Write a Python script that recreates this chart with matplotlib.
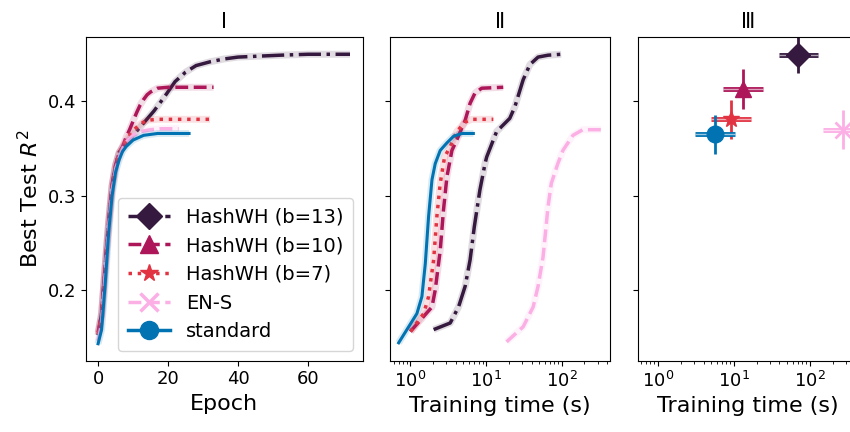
import numpy as np
import matplotlib
matplotlib.use("Agg")
from matplotlib import pyplot as plt

# colours / names
names = ["HashWH (b=13)", "HashWH (b=10)", "HashWH (b=7)", "EN-S", "standard"]
colors = ["#35193e", "#ad1759", "#e13342", "#fbafe4", "#0173b2"]
styles = ["-.", "--", ":", "--", "-"]
markers = ["D", "^", "*", "x", "o"]

# panel I : R2 vs epoch
b13_epoch = [0, 1, 2, 3, 4, 5, 6, 8, 10, 13, 16, 19, 22, 25, 28, 32, 36, 40, 46, 52, 60, 66, 72]
b13_r2 = [0.152, 0.175, 0.224, 0.27, 0.31, 0.332, 0.346, 0.356, 0.364, 0.377, 0.390, 0.405,
          0.421, 0.431, 0.438, 0.442, 0.445, 0.447, 0.448, 0.449, 0.450, 0.450, 0.450]
b10_epoch = [0, 1, 2, 3, 4, 5, 6, 7, 8, 9, 10, 11, 12, 13, 14, 15, 17, 20, 25, 30, 33]
b10_r2 = [0.155, 0.175, 0.225, 0.272, 0.312, 0.333, 0.345, 0.352, 0.362, 0.370, 0.379,
          0.388, 0.396, 0.402, 0.407, 0.410, 0.414, 0.415, 0.415, 0.415, 0.415]
b7_epoch = [0, 1, 2, 3, 4, 5, 6, 7, 8, 9, 10, 12, 14, 17, 20, 25, 32]
b7_r2 = [0.153, 0.172, 0.222, 0.27, 0.31, 0.332, 0.344, 0.352, 0.358, 0.364, 0.369,
         0.376, 0.380, 0.381, 0.381, 0.381, 0.381]
ens_epoch = [0, 1, 2, 3, 4, 5, 6, 7, 8, 10, 12, 15, 18, 23]
ens_r2 = [0.146, 0.165, 0.215, 0.265, 0.305, 0.328, 0.340, 0.350, 0.357, 0.364, 0.368,
          0.370, 0.371, 0.371]
std_epoch = [0, 1, 2, 3, 4, 5, 6, 7, 8, 10, 13, 17, 21, 26]
std_r2 = [0.143, 0.158, 0.205, 0.26, 0.300, 0.325, 0.338, 0.347, 0.352, 0.359, 0.364,
          0.366, 0.366, 0.366]

# panel II : R2 vs training time (s)
b13_time = [2.03, 3.36, 4.33, 5.3, 6.16, 7.0, 8.3, 9.7, 10.2, 13.8, 20.6, 24.0, 31, 38, 48.8, 66, 98.6]
b13_r2_t = [0.158, 0.165, 0.182, 0.204, 0.232, 0.267, 0.306, 0.334, 0.341, 0.368, 0.382,
            0.394, 0.423, 0.439, 0.447, 0.449, 0.450]
b10_time = [1.0, 1.93, 2.13, 2.48, 2.74, 3.04, 3.54, 4.1, 5.3, 6.16, 7.16, 8.78, 16.9]
b10_r2_t = [0.156, 0.182, 0.2, 0.242, 0.285, 0.320, 0.348, 0.359, 0.380, 0.398, 0.409, 0.414, 0.415]
b7_time = [1.0, 1.5, 1.74, 2.03, 2.24, 2.48, 2.83, 3.36, 4.1, 5.3, 6.5, 12.5]
b7_r2_t = [0.156, 0.175, 0.193, 0.232, 0.278, 0.313, 0.341, 0.352, 0.368, 0.378, 0.381, 0.381]
ens_time = [18.7, 31, 42, 48.8, 56.8, 66, 73, 89, 104, 141, 190, 331]
ens_r2_t = [0.145, 0.161, 0.182, 0.204, 0.235, 0.288, 0.313, 0.334, 0.348, 0.364, 0.370, 0.370]
std_time = [0.70, 1.22, 1.42, 1.575, 1.74, 1.93, 2.13, 2.48, 3.04, 3.72, 4.79, 6.8]
std_r2_t = [0.144, 0.175, 0.193, 0.228, 0.278, 0.317, 0.334, 0.348, 0.356, 0.363, 0.366, 0.366]

# panel III : best R2 vs total time, with error bars
p3_time = [69.5, 13.1, 9.2, 272, 5.7]
p3_time_lo = [39, 7.2, 5.0, 151, 3.1]
p3_time_hi = [127, 24, 16.9, 488, 10.5]
p3_r2 = [0.449, 0.413, 0.381, 0.370, 0.365]
p3_r2_err = [0.019, 0.021, 0.021, 0.021, 0.021]

epochs = [b13_epoch, b10_epoch, b7_epoch, ens_epoch, std_epoch]
r2_e = [b13_r2, b10_r2, b7_r2, ens_r2, std_r2]
times = [b13_time, b10_time, b7_time, ens_time, std_time]
r2_t = [b13_r2_t, b10_r2_t, b7_r2_t, ens_r2_t, std_r2_t]

fig = plt.figure(figsize=(8.5, 4.32), dpi=100)
ax1 = fig.add_axes([0.101, 0.165, 0.326, 0.75])
ax2 = fig.add_axes([0.459, 0.165, 0.259, 0.75], sharey=ax1)
ax3 = fig.add_axes([0.750, 0.165, 0.260, 0.75], sharey=ax1, sharex=ax2)

for i in range(5):
    lw = 2.5 if i != 4 else 2.2
    ax1.plot(epochs[i], r2_e[i], color=colors[i], lw=5, alpha=0.15, solid_capstyle="butt")
    ax1.plot(epochs[i], r2_e[i], color=colors[i], ls=styles[i], lw=lw)
    ax2.plot(times[i], r2_t[i], color=colors[i], lw=5, alpha=0.15, solid_capstyle="butt")
    ax2.plot(times[i], r2_t[i], color=colors[i], ls=styles[i], lw=lw)

    xe = [[p3_time[i] - p3_time_lo[i]], [p3_time_hi[i] - p3_time[i]]]
    ax3.errorbar([p3_time[i]], [p3_r2[i]], xerr=xe, fmt="none", ecolor=colors[i], elinewidth=3.5)
    ax3.errorbar([p3_time[i]], [p3_r2[i]], xerr=xe, fmt="none", ecolor="white", elinewidth=1,
                 alpha=0.6)
    ax3.errorbar([p3_time[i]], [p3_r2[i]], yerr=p3_r2_err[i], fmt="none", ecolor=colors[i],
                 elinewidth=2)
    ax3.plot([p3_time[i]], [p3_r2[i]], marker=markers[i], color=colors[i], ms=12 if i != 3 else 11,
             mew=2 if i == 3 else 1, ls="none")

# legend handles
handles = []
for i in range(5):
    h, = ax1.plot([], [], color=colors[i], ls=styles[i], lw=2.5, marker=markers[i], ms=13,
                  mew=2.5 if i == 3 else 1)
    handles.append(h)
ax1.legend(handles, names, loc="lower right", fontsize=14, handlelength=2.2,
           borderpad=0.5, labelspacing=0.5, framealpha=0.8)

ax1.set_ylim(0.125, 0.4686)
ax1.set_yticks([0.2, 0.3, 0.4])
ax1.set_xlim(-3.5, 75.7)
ax1.set_xticks([0, 20, 40, 60])
ax2.set_xscale("log")
ax2.set_xlim(0.54, 440)
plt.setp(ax2.get_yticklabels(), visible=False)
plt.setp(ax3.get_yticklabels(), visible=False)

for ax in (ax1, ax2, ax3):
    ax.tick_params(labelsize=13)

ax1.set_ylabel("Best Test $R^2$", fontsize=16)
ax1.set_xlabel("Epoch", fontsize=16)
ax2.set_xlabel("Training time (s)", fontsize=16)
ax3.set_xlabel("Training time (s)", fontsize=16)
ax1.set_title("\u2160", fontsize=15)
ax2.set_title("\u2161", fontsize=15)
ax3.set_title("\u2162", fontsize=15)

fig.savefig("out.png", dpi=100)
